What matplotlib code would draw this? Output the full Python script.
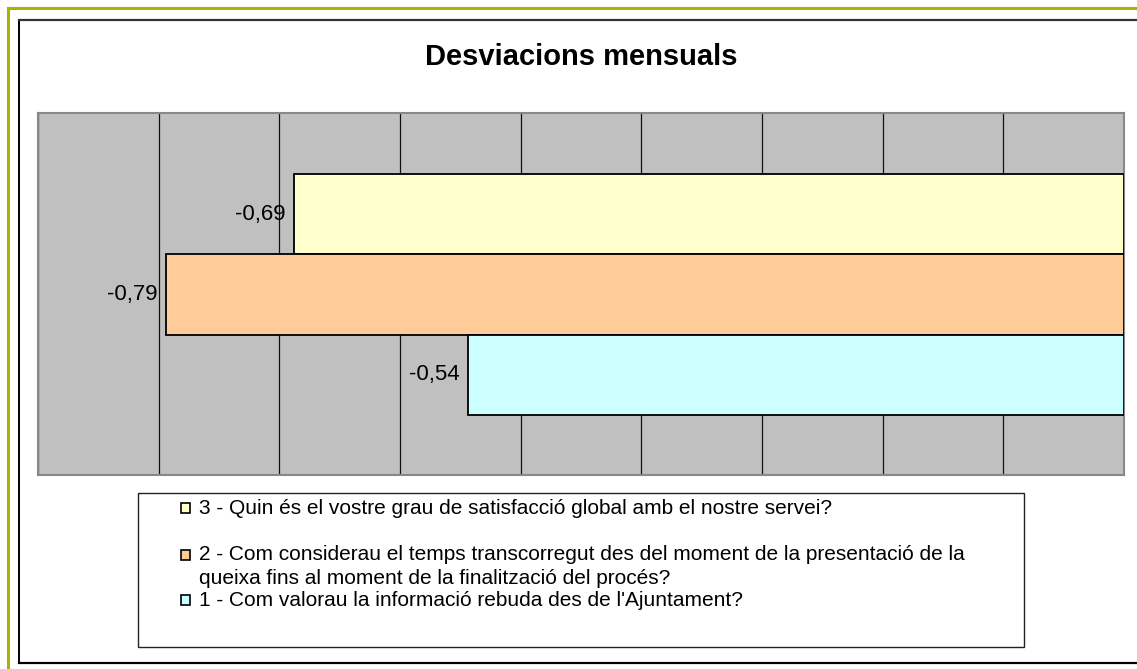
import matplotlib
matplotlib.use("Agg")
import matplotlib.pyplot as plt
from matplotlib.patches import Rectangle
from matplotlib.lines import Line2D

# ---- data ----
title = "Desviacions mensuals"
series_labels = [
    "3 - Quin és el vostre grau de satisfacció global amb el nostre servei?",
    "2 - Com considerau el temps transcorregut des del moment de la presentació de la\nqueixa fins al moment de la finalització del procés?",
    "1 - Com valorau la informació rebuda des de l'Ajuntament?",
]
series_values = [-0.688, -0.794, -0.544]
series_colors = ["#FFFFCC", "#FFCC99", "#CCFFFF"]
x_ticks = [-0.9, -0.8, -0.7, -0.6, -0.5, -0.4, -0.3, -0.2, -0.1, 0.0]

plt.rcParams['font.family'] = ['Liberation Sans', 'DejaVu Sans']

W, H = 1137, 669
fig = plt.figure(figsize=(W / 100, H / 100), dpi=100)
fig.patch.set_facecolor("white")

def fx(px):
    return px / W

def fy(py):
    return 1 - py / H

# outer frames
fig.add_artist(Line2D([fx(7.5), fx(7.5)], [fy(8), fy(H)], color="#A8B400", lw=2.2))
fig.add_artist(Line2D([fx(7.5), fx(W)], [fy(8), fy(8)], color="#A8B400", lw=2.2))
fig.add_artist(Line2D([fx(18.5), fx(18.5)], [fy(20), fy(663)], color="black", lw=1.4))
fig.add_artist(Line2D([fx(18.5), fx(W)], [fy(20), fy(20)], color="#333333", lw=1.6))
fig.add_artist(Line2D([fx(18.5), fx(W)], [fy(663), fy(663)], color="black", lw=1.6))

# title
fig.text(fx(581), fy(57), title, ha="center", va="center",
         fontsize=21, fontweight="bold")

# axes
left, right, top, bottom = 38, 1124, 113, 475
ax = fig.add_axes([fx(left), fy(bottom), fx(right) - fx(left), fy(top) - fy(bottom)])
ax.set_facecolor("#C0C0C0")
ax.set_xlim(x_ticks[0], x_ticks[-1])
ax.set_ylim(-2.25, 2.26)
ax.set_xticks(x_ticks)
ax.set_yticks([])
ax.tick_params(axis="x", length=0, labelbottom=False)
ax.grid(axis="x", color="#111111", lw=0.9)
ax.set_axisbelow(True)
for s in ax.spines.values():
    s.set_color("#888888")
    s.set_linewidth(1.5)

ypos = [1, 0, -1]
bars = ax.barh(ypos, series_values, height=1.0, color=series_colors,
               edgecolor="black", linewidth=1.3, zorder=3)
for b, v in zip(bars, series_values):
    ax.annotate(f"{v:.2f}".replace(".", ","),
                xy=(v, b.get_y() + b.get_height() / 2),
                xytext=(-8, 0), textcoords="offset pixels",
                ha="right", va="center", fontsize=16, zorder=4)

# legend (manual)
fig.add_artist(Rectangle((fx(138), fy(647)), fx(1024) - fx(138), fy(493) - fy(647),
                         facecolor="white", edgecolor="#222222", lw=1.0))
row_y = [508, 555, 600]
fs_leg = 15
for lab, col, yy in zip(series_labels, series_colors, row_y):
    fig.add_artist(Rectangle((fx(180.5), fy(yy + 5)), fx(9.5), fy(0) - fy(10),
                             facecolor=col, edgecolor="black", lw=1.2))
    lines = lab.split("\n")
    for i, ln in enumerate(lines):
        fig.text(fx(199), fy(yy + 24 * i), ln, ha="left", va="center", fontsize=fs_leg)

fig.savefig("out.png", dpi=100)
